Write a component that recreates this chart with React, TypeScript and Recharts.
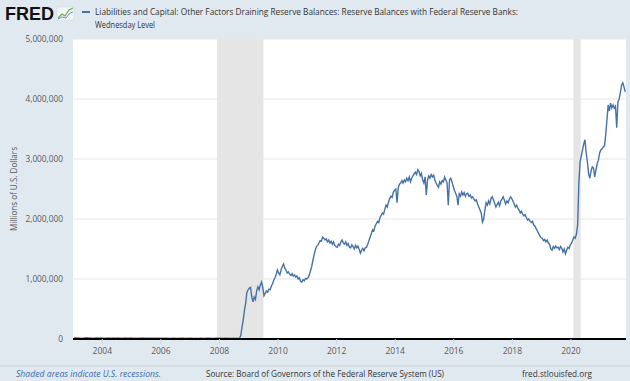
import { LineChart, Line, XAxis, YAxis, CartesianGrid, ReferenceArea } from 'recharts';

// Reserve balances (millions of dollars).
// 2003-2007: monthly readings; 2008 on: twice a month.
const years = [2003, 2004, 2005, 2006, 2007, 2008, 2009, 2010, 2011, 2012, 2013, 2014, 2015, 2016, 2017, 2018, 2019, 2020, 2021];

const r2003 = [21000, 18000, 16000, 15000, 17000, 22000, 18000, 16000, 15000, 17000, 16000, 19000];
const r2004 = [14000, 15000, 16000, 13000, 18000, 15000, 16000, 14000, 15000, 17000, 14000, 16000];
const r2005 = [15000, 13000, 14000, 12000, 16000, 13000, 14000, 12000, 15000, 13000, 12000, 14000];
const r2006 = [13000, 12000, 14000, 11000, 13000, 12000, 11000, 13000, 12000, 14000, 11000, 13000];
const r2007 = [12000, 11000, 13000, 11000, 12000, 10000, 13000, 15000, 12000, 11000, 13000, 14000];
const r2008 = [12000, 13000, 11000, 12000, 14000, 13000, 12000, 11000, 12000, 10000, 10000, 13000, 11000, 12000, 10000, 11000,
  15000, 60000, 200000, 320000, 480000, 600000, 780000, 820000];
const r2009 = [850000, 860000, 700000, 620000, 700000, 660000, 800000, 870000, 820000, 900000, 950000, 860000,
  720000, 760000, 800000, 780000, 830000, 820000, 880000, 920000, 980000, 1020000, 1080000, 1150000];
const r2010 = [1100000, 1070000, 1150000, 1210000, 1250000, 1180000, 1150000, 1100000, 1120000, 1080000, 1060000, 1090000,
  1050000, 1070000, 1030000, 1050000, 1000000, 1020000, 960000, 950000, 990000, 970000, 1010000, 1000000];
const r2011 = [1020000, 1060000, 1130000, 1200000, 1300000, 1400000, 1480000, 1540000, 1560000, 1600000, 1640000, 1630000,
  1700000, 1680000, 1650000, 1670000, 1620000, 1650000, 1600000, 1630000, 1580000, 1620000, 1560000, 1540000];
const r2012 = [1530000, 1580000, 1560000, 1620000, 1650000, 1600000, 1580000, 1620000, 1560000, 1590000, 1530000, 1520000,
  1570000, 1540000, 1500000, 1560000, 1520000, 1550000, 1490000, 1430000, 1480000, 1510000, 1470000, 1520000];
const r2013 = [1530000, 1580000, 1640000, 1700000, 1760000, 1820000, 1800000, 1880000, 1920000, 1960000, 1940000, 2020000,
  2060000, 2100000, 2080000, 2160000, 2230000, 2200000, 2280000, 2340000, 2380000, 2360000, 2450000, 2480000];
const r2014 = [2500000, 2270000, 2520000, 2580000, 2600000, 2640000, 2600000, 2650000, 2620000, 2680000, 2640000, 2700000,
  2620000, 2680000, 2720000, 2750000, 2780000, 2740000, 2820000, 2790000, 2720000, 2760000, 2650000, 2600000];
const r2015 = [2700000, 2400000, 2650000, 2720000, 2680000, 2740000, 2700000, 2730000, 2650000, 2600000, 2560000, 2530000,
  2620000, 2580000, 2640000, 2620000, 2700000, 2650000, 2600000, 2230000, 2650000, 2680000, 2620000, 2550000];
const r2016 = [2480000, 2430000, 2380000, 2230000, 2420000, 2380000, 2450000, 2400000, 2440000, 2380000, 2420000, 2430000,
  2380000, 2400000, 2350000, 2370000, 2330000, 2300000, 2320000, 2250000, 2200000, 2150000, 2100000, 1950000];
const r2017 = [2000000, 2150000, 2270000, 2230000, 2300000, 2250000, 2340000, 2370000, 2320000, 2260000, 2200000, 2240000,
  2280000, 2220000, 2300000, 2330000, 2370000, 2310000, 2250000, 2300000, 2270000, 2330000, 2370000, 2340000];
const r2018 = [2300000, 2250000, 2200000, 2230000, 2180000, 2150000, 2100000, 2130000, 2080000, 2050000, 2070000, 2020000,
  1980000, 2000000, 1960000, 1940000, 1960000, 1900000, 1880000, 1840000, 1800000, 1760000, 1720000, 1690000];
const r2019 = [1680000, 1640000, 1660000, 1620000, 1650000, 1600000, 1580000, 1500000, 1480000, 1540000, 1510000, 1550000,
  1520000, 1530000, 1490000, 1540000, 1510000, 1450000, 1500000, 1420000, 1480000, 1530000, 1510000, 1570000];
const r2020 = [1600000, 1650000, 1700000, 1680000, 1750000, 1900000, 2600000, 2950000, 3050000, 3150000, 3250000, 3320000,
  3100000, 2950000, 2750000, 2680000, 2800000, 2870000, 2850000, 2700000, 2820000, 2920000, 2980000, 3100000];
const r2021 = [3150000, 3170000, 3200000, 3220000, 3400000, 3650000, 3900000, 3800000, 3930000, 3850000, 3900000, 3850000,
  3880000, 3520000, 3950000, 4000000, 4100000, 4230000, 4270000, 4200000, 4120000];

const byYear = [r2003, r2004, r2005, r2006, r2007, r2008, r2009, r2010, r2011, r2012, r2013, r2014, r2015, r2016, r2017, r2018, r2019, r2020, r2021];

const yTicks = [0, 1000000, 2000000, 3000000, 4000000, 5000000];
const xTicks = [2004, 2006, 2008, 2010, 2012, 2014, 2016, 2018, 2020];
const recessions = [
  { from: 2007.917, to: 2009.5 },
  { from: 2020.083, to: 2020.333 },
];

const data = byYear.flatMap((vals, i) => {
  const per = vals.length <= 12 ? 12 : 24;
  return vals.map((v, k) => ({ t: years[i] + (k + 0.5) / per, value: v }));
});

const BG = '#e1e9f0';
const FONT = '"Open Sans", Roboto, sans-serif';

export default function App() {
  return (
    <div style={{ position: 'fixed', left: 0, top: 0, width: 630, height: 381, background: BG, overflow: 'hidden' }}>
      <LineChart width={630} height={381} data={data} margin={{ top: 39, right: 4, bottom: 12, left: 0 }}>
        <CartesianGrid horizontal vertical={false} stroke="#e6e6e6" fill="#ffffff" />
        {recessions.map((r) => (
          <ReferenceArea key={r.from} x1={r.from} x2={r.to} y1={0} y2={5000000} fill="#e5e5e5" fillOpacity={1} stroke="none" />
        ))}
        <XAxis
          dataKey="t"
          type="number"
          domain={[2003, 2021.88]}
          ticks={xTicks}
          allowDataOverflow
          height={30}
          axisLine={{ stroke: '#000', strokeWidth: 2 }}
          tickLine={{ stroke: '#ccd6eb' }}
          tickSize={5}
          tickMargin={4}
          tick={{ fontSize: 8.5, fill: '#595959', fontFamily: FONT }}
        />
        <YAxis
          type="number"
          domain={[0, 5000000]}
          ticks={yTicks}
          width={73}
          axisLine={false}
          tickLine={false}
          tickSize={0}
          tickMargin={10}
          tickFormatter={(v: number) => v.toLocaleString('en-US')}
          tick={{ fontSize: 8.3, fill: '#595959', fontFamily: FONT }}
        />
        <Line
          type="linear"
          dataKey="value"
          stroke="#4572a7"
          strokeWidth={1.4}
          dot={false}
          isAnimationActive={false}
        />
      </LineChart>

      <svg width={630} height={381} style={{ position: 'absolute', left: 0, top: 0, pointerEvents: 'none' }}>
        <text x={5} y={20} fontFamily="Liberation Sans, Arial, sans-serif" fontWeight="bold" fontSize={18} fill="#111" textLength={49} lengthAdjust="spacingAndGlyphs">
          FRED
        </text>
        <rect x={57} y={7} width={17} height={13} fill="#f3f6f9" stroke="#c9d3dc" strokeWidth={0.5} />
        <polyline points="58,18 62,14 65,16 69,10 73,8" fill="none" stroke="#6ca94a" strokeWidth={1.2} />
        <polyline points="58,19 62,17 66,18 70,13 73,12" fill="none" stroke="#4572a7" strokeWidth={0.8} />
        <line x1={82} y1={12} x2={90} y2={12} stroke="#4572a7" strokeWidth={2} />
        <text x={95} y={15} fontFamily={FONT} fontSize={9.5} fill="#333" textLength={423} lengthAdjust="spacingAndGlyphs">
          Liabilities and Capital: Other Factors Draining Reserve Balances: Reserve Balances with Federal Reserve Banks:
        </text>
        <text x={95} y={28} fontFamily={FONT} fontSize={9.5} fill="#333" textLength={60} lengthAdjust="spacingAndGlyphs">
          Wednesday Level
        </text>
        <text
          x={17}
          y={189}
          transform="rotate(-90 17 189)"
          textAnchor="middle"
          fontFamily={FONT}
          fontSize={8.5}
          fill="#595959"
          textLength={84}
          lengthAdjust="spacingAndGlyphs"
        >
          Millions of U.S. Dollars
        </text>
        <line x1={0} y1={366} x2={630} y2={366} stroke="#c8d1d9" strokeWidth={0.8} />
        <text x={16} y={377} fontFamily={FONT} fontStyle="italic" fontSize={8.5} fill="#3b6aa8" textLength={145} lengthAdjust="spacingAndGlyphs">
          Shaded areas indicate U.S. recessions.
        </text>
        <text x={206} y={377} fontFamily={FONT} fontSize={8.5} fill="#333" textLength={238} lengthAdjust="spacingAndGlyphs">
          Source: Board of Governors of the Federal Reserve System (US)
        </text>
        <text x={522} y={377} fontFamily={FONT} fontSize={8.5} fill="#333" textLength={70} lengthAdjust="spacingAndGlyphs">
          fred.stlouisfed.org
        </text>
      </svg>
    </div>
  );
}
